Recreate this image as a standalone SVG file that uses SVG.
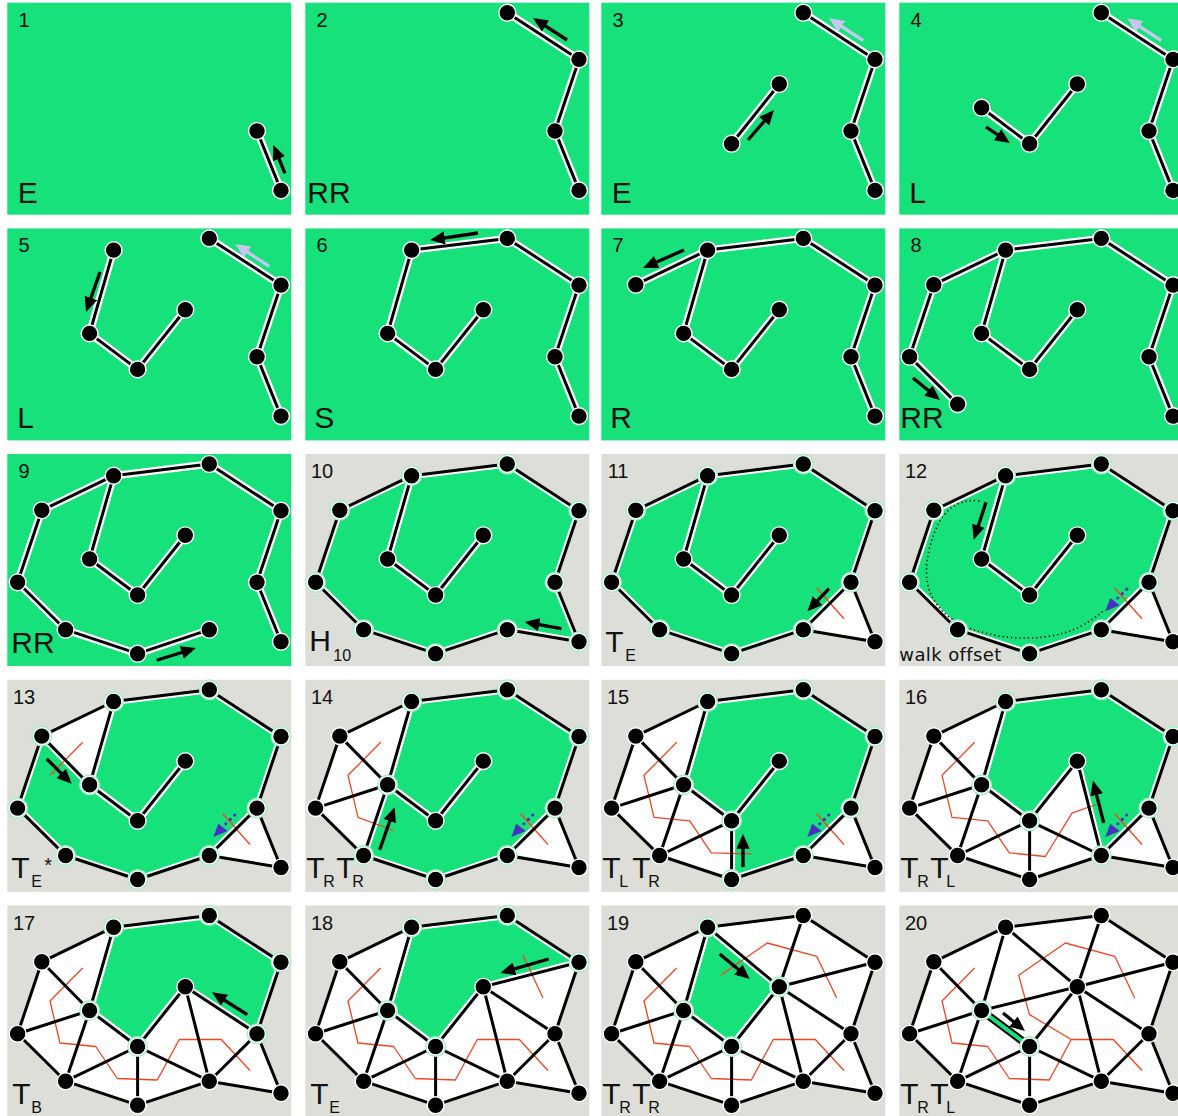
<svg xmlns="http://www.w3.org/2000/svg" xmlns:xlink="http://www.w3.org/1999/xlink" width="1178" height="1116" viewBox="0 0 1178 1116">
<style>
.bgg{fill:#16e17a}
.bgy{fill:#dcded7}
.hw{fill:#fff}
.gp{fill:#16e17a;stroke:#fff;stroke-width:7}
.cw{fill:none;stroke:#fff;stroke-width:7.5;stroke-linecap:round;stroke-linejoin:round}
.bk{fill:none;stroke:#000;stroke-width:3;stroke-linecap:round;stroke-linejoin:round}
.rd{fill:none;stroke:#f4441f;stroke-width:1.3;stroke-linejoin:round}
.n{fill:#000;stroke:#fff;stroke-width:1.4}
.rg{fill:none;stroke:#a4efc6;stroke-width:4.2}
.ar{stroke:#000;stroke-width:3.3;marker-end:url(#mk)}
.lv{stroke:#c9c6f2;stroke-width:3.3;marker-end:url(#ml)}
text{font-family:"Liberation Sans",Arial,sans-serif;fill:#111}
.num{font-size:20px;text-anchor:middle}
.lb{font-size:30px}
.sb{font-size:16px}
.wk{font-family:"DejaVu Sans",sans-serif;font-size:18px;letter-spacing:0.4px}
</style>
<defs>
<marker id="mk" viewBox="0 0 4.5 4" refX="3" refY="2" markerWidth="4.5" markerHeight="4" orient="auto" markerUnits="strokeWidth"><path d="M0,0L4.5,2L0,4z" fill="#000"/></marker>
<marker id="ml" viewBox="0 0 4.5 4" refX="3" refY="2" markerWidth="4.5" markerHeight="4" orient="auto" markerUnits="strokeWidth"><path d="M0,0L4.5,2L0,4z" fill="#c9c6f2"/></marker>
<circle id="A" cx="34.5" cy="56.3" r="8.4"/>
<circle id="B" cx="106.3" cy="21.7" r="8.4"/>
<circle id="C" cx="202" cy="10" r="8.4"/>
<circle id="D" cx="273.7" cy="56.7" r="8.4"/>
<circle id="E" cx="249.7" cy="128.3" r="8.4"/>
<circle id="F" cx="273.7" cy="187.7" r="8.4"/>
<circle id="G" cx="178" cy="81.3" r="8.4"/>
<circle id="H" cx="130.3" cy="141" r="8.4"/>
<circle id="I" cx="82.3" cy="105" r="8.4"/>
<circle id="J" cx="10.3" cy="128.3" r="8.4"/>
<circle id="K" cx="58.3" cy="175.7" r="8.4"/>
<circle id="L" cx="130.3" cy="199.7" r="8.4"/>
<circle id="M" cx="202" cy="175.7" r="8.4"/>
<g id="allN"><use href="#A" class="n"/><use href="#B" class="n"/><use href="#C" class="n"/><use href="#D" class="n"/><use href="#E" class="n"/><use href="#F" class="n"/><use href="#G" class="n"/><use href="#H" class="n"/><use href="#I" class="n"/><use href="#J" class="n"/><use href="#K" class="n"/><use href="#L" class="n"/><use href="#M" class="n"/></g>
<path id="s1" d="M273.7,187.7L249.7,128.3"/>
<path id="s2" d="M273.7,187.7L249.7,128.3L273.7,56.7L202,10"/>
<path id="s3" d="M273.7,187.7L249.7,128.3L273.7,56.7L202,10M130.3,141L178,81.3"/>
<path id="s4" d="M273.7,187.7L249.7,128.3L273.7,56.7L202,10M82.3,105L130.3,141L178,81.3"/>
<path id="s5" d="M273.7,187.7L249.7,128.3L273.7,56.7L202,10M106.3,21.7L82.3,105L130.3,141L178,81.3"/>
<path id="s6" d="M178,81.3L130.3,141L82.3,105L106.3,21.7L202,10L273.7,56.7L249.7,128.3L273.7,187.7"/>
<path id="s7" d="M34.5,56.3L106.3,21.7L202,10L273.7,56.7L249.7,128.3L273.7,187.7M106.3,21.7L82.3,105L130.3,141L178,81.3"/>
<path id="s8" d="M58.3,175.7L10.3,128.3L34.5,56.3L106.3,21.7L202,10L273.7,56.7L249.7,128.3L273.7,187.7M106.3,21.7L82.3,105L130.3,141L178,81.3"/>
<path id="s9" d="M202,175.7L130.3,199.7L58.3,175.7L10.3,128.3L34.5,56.3L106.3,21.7L202,10L273.7,56.7L249.7,128.3L273.7,187.7M106.3,21.7L82.3,105L130.3,141L178,81.3"/>
<path id="sp" d="M106.3,21.7L82.3,105L130.3,141L178,81.3"/>
<path id="hull" d="M10.3,128.3L34.5,56.3L106.3,21.7L202,10L273.7,56.7L249.7,128.3L273.7,187.7L202,175.7L130.3,199.7L58.3,175.7Z"/>
<path id="g11" d="M10.3,128.3L34.5,56.3L106.3,21.7L202,10L273.7,56.7L249.7,128.3L202,175.7L130.3,199.7L58.3,175.7Z"/>
<path id="g13" d="M10.3,128.3L34.5,56.3L82.3,105L106.3,21.7L202,10L273.7,56.7L249.7,128.3L202,175.7L130.3,199.7L58.3,175.7Z"/>
<path id="g14" d="M58.3,175.7L82.3,105L106.3,21.7L202,10L273.7,56.7L249.7,128.3L202,175.7L130.3,199.7Z"/>
<path id="g15" d="M130.3,141L82.3,105L106.3,21.7L202,10L273.7,56.7L249.7,128.3L202,175.7L130.3,199.7Z"/>
<path id="g16" d="M130.3,141L82.3,105L106.3,21.7L202,10L273.7,56.7L249.7,128.3L202,175.7L178,81.3Z"/>
<path id="g17" d="M130.3,141L82.3,105L106.3,21.7L202,10L273.7,56.7L249.7,128.3L178,81.3Z"/>
<path id="g18" d="M130.3,141L82.3,105L106.3,21.7L202,10L273.7,56.7L178,81.3Z"/>
<path id="g19" d="M130.3,141L82.3,105L106.3,21.7L178,81.3Z"/>
<clipPath id="c10"><use href="#hull"/></clipPath>
<clipPath id="c11"><use href="#g11"/></clipPath>
<clipPath id="c13"><use href="#g13"/></clipPath>
<clipPath id="c14"><use href="#g14"/></clipPath>
<clipPath id="c15"><use href="#g15"/></clipPath>
<clipPath id="c16"><use href="#g16"/></clipPath>
<clipPath id="c17"><use href="#g17"/></clipPath>
<clipPath id="c18"><use href="#g18"/></clipPath>
<clipPath id="c19"><use href="#g19"/></clipPath>
<path id="e11" d="M249.7,128.3L202,175.7"/>
<path id="e13" d="M249.7,128.3L202,175.7M34.5,56.3L82.3,105"/>
<path id="e14" d="M249.7,128.3L202,175.7M34.5,56.3L82.3,105M10.3,128.3L82.3,105M58.3,175.7L82.3,105"/>
<path id="e15" d="M249.7,128.3L202,175.7M34.5,56.3L82.3,105M10.3,128.3L82.3,105M58.3,175.7L82.3,105M58.3,175.7L130.3,141M130.3,199.7L130.3,141"/>
<path id="e16" d="M249.7,128.3L202,175.7M34.5,56.3L82.3,105M10.3,128.3L82.3,105M58.3,175.7L82.3,105M58.3,175.7L130.3,141M130.3,199.7L130.3,141M202,175.7L130.3,141M202,175.7L178,81.3"/>
<path id="e17" d="M249.7,128.3L202,175.7M34.5,56.3L82.3,105M10.3,128.3L82.3,105M58.3,175.7L82.3,105M58.3,175.7L130.3,141M130.3,199.7L130.3,141M202,175.7L130.3,141M202,175.7L178,81.3M249.7,128.3L178,81.3"/>
<path id="e18" d="M249.7,128.3L202,175.7M34.5,56.3L82.3,105M10.3,128.3L82.3,105M58.3,175.7L82.3,105M58.3,175.7L130.3,141M130.3,199.7L130.3,141M202,175.7L130.3,141M202,175.7L178,81.3M249.7,128.3L178,81.3M273.7,56.7L178,81.3"/>
<path id="e19" d="M249.7,128.3L202,175.7M34.5,56.3L82.3,105M10.3,128.3L82.3,105M58.3,175.7L82.3,105M58.3,175.7L130.3,141M130.3,199.7L130.3,141M202,175.7L130.3,141M202,175.7L178,81.3M249.7,128.3L178,81.3M273.7,56.7L178,81.3M202,10L178,81.3M106.3,21.7L178,81.3"/>
<path id="e20" d="M249.7,128.3L202,175.7M34.5,56.3L82.3,105M10.3,128.3L82.3,105M58.3,175.7L82.3,105M58.3,175.7L130.3,141M130.3,199.7L130.3,141M202,175.7L130.3,141M202,175.7L178,81.3M249.7,128.3L178,81.3M273.7,56.7L178,81.3M202,10L178,81.3M106.3,21.7L178,81.3M82.3,105L178,81.3"/>
<path id="rst" d="M215.4,134L242.7,164.7"/>
<path id="rmain" d="M75.4,62.5L42.7,95.5L52.7,137.5L88.4,141L110,173L150,174.5L172,134L214,134L242.7,165"/>
<g id="blue" fill="#4a2fc4"><polygon points="206,157.3 211,144 220.4,151.3"/><circle cx="218.5" cy="144" r="1.6"/><circle cx="223" cy="139.6" r="1.6"/><circle cx="227.4" cy="135.2" r="1.6"/></g>
</defs>

<g id="p1" transform="translate(7.3,2.7)">
<rect class="bgg" width="284" height="212"/>
<use href="#s1" class="cw"/><use href="#s1" class="bk"/>
<use href="#E" class="n"/><use href="#F" class="n"/>
<line class="ar" x1="277.7" y1="170.6" x2="267.9" y2="146.9"/>
<text class="num" x="16.8" y="24">1</text>
<text class="lb" x="10.5" y="200">E</text>
</g>

<g id="p2" transform="translate(305.3,2.7)">
<rect class="bgg" width="284" height="212"/>
<use href="#s2" class="cw"/><use href="#s2" class="bk"/>
<use href="#C" class="n"/><use href="#D" class="n"/><use href="#E" class="n"/><use href="#F" class="n"/>
<line class="ar" x1="261.7" y1="37.3" x2="231.9" y2="18"/>
<text class="num" x="16.8" y="24">2</text>
<text class="lb" x="2" y="200">RR</text>
</g>

<g id="p3" transform="translate(601.3,2.7)">
<rect class="bgg" width="284" height="212"/>
<use href="#s3" class="cw"/><use href="#s3" class="bk"/>
<use href="#C" class="n"/><use href="#D" class="n"/><use href="#E" class="n"/><use href="#F" class="n"/><use href="#G" class="n"/><use href="#H" class="n"/>
<line class="lv" x1="262" y1="38" x2="232" y2="18.3"/>
<line class="ar" x1="146.7" y1="137.3" x2="169.4" y2="111.1"/>
<text class="num" x="16.8" y="24">3</text>
<text class="lb" x="10.5" y="200">E</text>
</g>

<g id="p4" transform="translate(899.3,2.7)">
<rect class="bgg" width="284" height="212"/>
<use href="#s4" class="cw"/><use href="#s4" class="bk"/>
<use href="#C" class="n"/><use href="#D" class="n"/><use href="#E" class="n"/><use href="#F" class="n"/><use href="#G" class="n"/><use href="#H" class="n"/><use href="#I" class="n"/>
<line class="lv" x1="262" y1="38" x2="232" y2="18.3"/>
<line class="ar" x1="86.7" y1="124.3" x2="106.5" y2="137.5"/>
<text class="num" x="16.8" y="24">4</text>
<text class="lb" x="10" y="200">L</text>
</g>

<g id="p5" transform="translate(7.3,228.4)">
<rect class="bgg" width="284" height="212"/>
<use href="#s5" class="cw"/><use href="#s5" class="bk"/>
<use href="#B" class="n"/><use href="#C" class="n"/><use href="#D" class="n"/><use href="#E" class="n"/><use href="#F" class="n"/><use href="#G" class="n"/><use href="#H" class="n"/><use href="#I" class="n"/>
<line class="lv" x1="262" y1="38" x2="232" y2="18.3"/>
<line class="ar" x1="92.7" y1="43.6" x2="80.4" y2="78.9"/>
<text class="num" x="16.8" y="24">5</text>
<text class="lb" x="10" y="200">L</text>
</g>

<g id="p6" transform="translate(305.3,228.4)">
<rect class="bgg" width="284" height="212"/>
<use href="#s6" class="cw"/><use href="#s6" class="bk"/>
<use href="#B" class="n"/><use href="#C" class="n"/><use href="#D" class="n"/><use href="#E" class="n"/><use href="#F" class="n"/><use href="#G" class="n"/><use href="#H" class="n"/><use href="#I" class="n"/>
<line class="ar" x1="172.7" y1="4.6" x2="129.7" y2="10.9"/>
<text class="num" x="16.8" y="24">6</text>
<text class="lb" x="9" y="200">S</text>
</g>

<g id="p7" transform="translate(601.3,228.4)">
<rect class="bgg" width="284" height="212"/>
<use href="#s7" class="cw"/><use href="#s7" class="bk"/>
<use href="#A" class="n"/><use href="#B" class="n"/><use href="#C" class="n"/><use href="#D" class="n"/><use href="#E" class="n"/><use href="#F" class="n"/><use href="#G" class="n"/><use href="#H" class="n"/><use href="#I" class="n"/>
<line class="ar" x1="82.7" y1="21.6" x2="46.3" y2="37.6"/>
<text class="num" x="16.8" y="24">7</text>
<text class="lb" x="9" y="200">R</text>
</g>

<g id="p8" transform="translate(899.3,228.4)">
<rect class="bgg" width="284" height="212"/>
<use href="#s8" class="cw"/><use href="#s8" class="bk"/>
<use href="#A" class="n"/><use href="#B" class="n"/><use href="#C" class="n"/><use href="#D" class="n"/><use href="#E" class="n"/><use href="#F" class="n"/><use href="#G" class="n"/><use href="#H" class="n"/><use href="#I" class="n"/><use href="#J" class="n"/><use href="#K" class="n"/>
<line class="ar" x1="13.7" y1="149.6" x2="36.8" y2="168.4"/>
<text class="num" x="16.8" y="24">8</text>
<text class="lb" x="1" y="200">RR</text>
</g>

<g id="p9" transform="translate(7.3,454)">
<rect class="bgg" width="284" height="212"/>
<use href="#s9" class="cw"/><use href="#s9" class="bk"/>
<use href="#allN"/>
<line class="ar" x1="149.4" y1="206.3" x2="183.9" y2="195.5"/>
<text class="num" x="16.8" y="24">9</text>
<text class="lb" x="4" y="199">RR</text>
</g>

<g id="p10" transform="translate(305.3,454)">
<rect class="bgy" width="284" height="212"/>
<use href="#hull" class="gp" clip-path="url(#c10)"/>
<use href="#sp" class="cw"/>
<use href="#hull" class="bk"/><use href="#sp" class="bk"/>
<use href="#A" class="rg"/><use href="#B" class="rg"/><use href="#C" class="rg"/><use href="#D" class="rg"/><use href="#E" class="rg"/><use href="#F" class="rg"/><use href="#M" class="rg"/><use href="#L" class="rg"/><use href="#K" class="rg"/><use href="#J" class="rg"/>
<use href="#allN"/>
<line class="ar" x1="256" y1="174.7" x2="224.2" y2="168.9"/>
<text class="num" x="16.8" y="24">10</text>
<text class="lb" x="4" y="197">H</text><text x="28" y="206.5" style="font-size:16px">10</text>
</g>

<g id="p11" transform="translate(601.3,454)">
<rect class="bgy" width="284" height="212"/>
<use href="#hull" class="hw"/>
<use href="#g11" class="gp" clip-path="url(#c11)"/>
<use href="#sp" class="cw"/>
<use href="#rst" class="rd"/>
<use href="#hull" class="bk"/><use href="#e11" class="bk"/><use href="#sp" class="bk"/>
<use href="#A" class="rg"/><use href="#B" class="rg"/><use href="#C" class="rg"/><use href="#D" class="rg"/><use href="#E" class="rg"/><use href="#M" class="rg"/><use href="#L" class="rg"/><use href="#K" class="rg"/><use href="#J" class="rg"/>
<use href="#allN"/>
<line class="ar" x1="227.7" y1="134.7" x2="209.5" y2="153.7"/>
<text class="num" x="16.8" y="24">11</text>
<text class="lb" x="4" y="198">T</text><text class="sb" x="24" y="207">E</text>
</g>

<g id="p12" transform="translate(899.3,454)">
<rect class="bgy" width="284" height="212"/>
<use href="#hull" class="hw"/>
<use href="#g11" class="gp" clip-path="url(#c11)"/>
<use href="#sp" class="cw"/>
<use href="#rst" class="rd"/>
<path d="M80,47C60,44 45,56 38,72C28,94 24,118 30,136C38,160 62,176 100,182C130,187 160,183 180,173C192,167 199,161 204,157" fill="none" stroke="#000" stroke-width="1.7" stroke-dasharray="1.2 3"/>
<use href="#hull" class="bk"/><use href="#e11" class="bk"/><use href="#sp" class="bk"/>
<use href="#A" class="rg"/><use href="#B" class="rg"/><use href="#C" class="rg"/><use href="#D" class="rg"/><use href="#E" class="rg"/><use href="#M" class="rg"/><use href="#L" class="rg"/><use href="#K" class="rg"/><use href="#J" class="rg"/>
<use href="#allN"/>
<use href="#blue"/>
<line class="ar" x1="86.7" y1="48.3" x2="76" y2="81"/>
<text class="num" x="16.8" y="24">12</text>
<text class="wk" x="0" y="207">walk offset</text>
</g>

<g id="p13" transform="translate(7.3,679.8)">
<rect class="bgy" width="284" height="212"/>
<use href="#hull" class="hw"/>
<use href="#g13" class="gp" clip-path="url(#c13)"/>
<use href="#sp" class="cw"/>
<use href="#rst" class="rd"/>
<path class="rd" d="M42.7,95.5L75.4,62.5"/>
<use href="#hull" class="bk"/><use href="#e13" class="bk"/><use href="#sp" class="bk"/>
<use href="#A" class="rg"/><use href="#B" class="rg"/><use href="#C" class="rg"/><use href="#D" class="rg"/><use href="#E" class="rg"/><use href="#M" class="rg"/><use href="#L" class="rg"/><use href="#K" class="rg"/><use href="#J" class="rg"/><use href="#I" class="rg"/>
<use href="#allN"/>
<use href="#blue"/>
<line class="ar" x1="39.4" y1="79" x2="60.9" y2="100.5"/>
<text class="num" x="16.8" y="24">13</text>
<text class="lb" x="4" y="198">T</text><text class="sb" x="24" y="207">E</text><text x="37" y="192" style="font-size:20px">*</text>
</g>

<g id="p14" transform="translate(305.3,679.8)">
<rect class="bgy" width="284" height="212"/>
<use href="#hull" class="hw"/>
<use href="#g14" class="gp" clip-path="url(#c14)"/>
<use href="#sp" class="cw"/>
<use href="#rst" class="rd"/>
<path class="rd" d="M75.4,62.5L42.7,95.5L52.7,137.5L88.4,150.7"/>
<use href="#hull" class="bk"/><use href="#e14" class="bk"/><use href="#sp" class="bk"/>
<use href="#I" class="rg"/><use href="#K" class="rg"/><use href="#B" class="rg"/><use href="#C" class="rg"/><use href="#D" class="rg"/><use href="#E" class="rg"/><use href="#M" class="rg"/><use href="#L" class="rg"/>
<use href="#allN"/>
<use href="#blue"/>
<line class="ar" x1="74.4" y1="170" x2="87.7" y2="132"/>
<text class="num" x="16.8" y="24">14</text>
<text class="lb" x="1" y="198">T</text><text class="sb" x="18" y="207">R</text><text class="lb" x="31" y="198">T</text><text class="sb" x="47" y="207">R</text>
</g>

<g id="p15" transform="translate(601.3,679.8)">
<rect class="bgy" width="284" height="212"/>
<use href="#hull" class="hw"/>
<use href="#g15" class="gp" clip-path="url(#c15)"/>
<use href="#sp" class="cw"/>
<use href="#rst" class="rd"/>
<path class="rd" d="M75.4,62.5L42.7,95.5L52.7,137.5L88.4,141L110,173L150.4,174"/>
<use href="#hull" class="bk"/><use href="#e15" class="bk"/><use href="#sp" class="bk"/>
<use href="#I" class="rg"/><use href="#H" class="rg"/><use href="#L" class="rg"/><use href="#B" class="rg"/><use href="#C" class="rg"/><use href="#D" class="rg"/><use href="#E" class="rg"/><use href="#M" class="rg"/>
<use href="#allN"/>
<use href="#blue"/>
<line class="ar" x1="141.7" y1="187.3" x2="141.7" y2="159"/>
<text class="num" x="16.8" y="24">15</text>
<text class="lb" x="1" y="198">T</text><text class="sb" x="18" y="207">L</text><text class="lb" x="31" y="198">T</text><text class="sb" x="47" y="207">R</text>
</g>

<g id="p16" transform="translate(899.3,679.8)">
<rect class="bgy" width="284" height="212"/>
<use href="#hull" class="hw"/>
<use href="#g16" class="gp" clip-path="url(#c16)"/>
<use href="#sp" class="cw"/>
<use href="#rst" class="rd"/>
<path class="rd" d="M75.4,62.5L42.7,95.5L52.7,137.5L88.4,141L110,173L146,176.7L172.7,133.3L196.7,124.7"/>
<use href="#hull" class="bk"/><use href="#e16" class="bk"/><use href="#sp" class="bk"/>
<use href="#I" class="rg"/><use href="#H" class="rg"/><use href="#B" class="rg"/><use href="#C" class="rg"/><use href="#D" class="rg"/><use href="#E" class="rg"/><use href="#M" class="rg"/>
<use href="#allN"/>
<use href="#blue"/>
<line class="ar" x1="204.4" y1="143" x2="194.9" y2="105.5"/>
<text class="num" x="16.8" y="24">16</text>
<text class="lb" x="1" y="198">T</text><text class="sb" x="18" y="207">R</text><text class="lb" x="31" y="198">T</text><text class="sb" x="47" y="207">L</text>
</g>

<g id="p17" transform="translate(7.3,905.5)">
<rect class="bgy" width="284" height="212"/>
<use href="#hull" class="hw"/>
<use href="#g17" class="gp" clip-path="url(#c17)"/>
<use href="#sp" class="cw"/>
<use href="#rmain" class="rd"/>
<use href="#hull" class="bk"/><use href="#e17" class="bk"/><use href="#sp" class="bk"/>
<use href="#I" class="rg"/><use href="#H" class="rg"/><use href="#B" class="rg"/><use href="#C" class="rg"/><use href="#D" class="rg"/><use href="#E" class="rg"/>
<use href="#allN"/>
<line class="ar" x1="240" y1="109.2" x2="208.9" y2="89.5"/>
<text class="num" x="16.8" y="24">17</text>
<text class="lb" x="5" y="198">T</text><text class="sb" x="24" y="207">B</text>
</g>

<g id="p18" transform="translate(305.3,905.5)">
<rect class="bgy" width="284" height="212"/>
<use href="#hull" class="hw"/>
<use href="#g18" class="gp" clip-path="url(#c18)"/>
<use href="#sp" class="cw"/>
<use href="#rmain" class="rd"/>
<path class="rd" d="M217.7,49.8L237.7,92.5"/>
<use href="#hull" class="bk"/><use href="#e18" class="bk"/><use href="#sp" class="bk"/>
<use href="#I" class="rg"/><use href="#H" class="rg"/><use href="#B" class="rg"/><use href="#C" class="rg"/><use href="#D" class="rg"/>
<use href="#allN"/>
<line class="ar" x1="243.4" y1="53.5" x2="199.8" y2="66.1"/>
<text class="num" x="16.8" y="24">18</text>
<text class="lb" x="5" y="198">T</text><text class="sb" x="24" y="207">E</text>
</g>

<g id="p19" transform="translate(601.3,905.5)">
<rect class="bgy" width="284" height="212"/>
<use href="#hull" class="hw"/>
<use href="#g19" class="gp" clip-path="url(#c19)"/>
<use href="#sp" class="cw"/>
<use href="#rmain" class="rd"/>
<path class="rd" d="M119.4,69.8L166,37.5L215.4,50.8L235.4,92.5"/>
<use href="#hull" class="bk"/><use href="#e19" class="bk"/><use href="#sp" class="bk"/>
<use href="#I" class="rg"/><use href="#H" class="rg"/><use href="#B" class="rg"/><use href="#G" class="rg"/>
<use href="#allN"/>
<line class="ar" x1="118.4" y1="48.5" x2="144.6" y2="70.3"/>
<text class="num" x="16.8" y="24">19</text>
<text class="lb" x="1" y="198">T</text><text class="sb" x="18" y="207">R</text><text class="lb" x="31" y="198">T</text><text class="sb" x="47" y="207">R</text>
</g>

<g id="p20" transform="translate(899.3,905.5)">
<rect class="bgy" width="284" height="212"/>
<use href="#hull" class="hw"/>
<use href="#rmain" class="rd"/>
<path class="rd" d="M235.4,92.5L215.4,50.8L166,37.5L119.4,69.8L130.2,109.1L172,134"/>
<use href="#hull" class="bk"/><use href="#e20" class="bk"/><use href="#sp" class="bk"/>
<path d="M82.3,105L130.3,141" stroke="#000" stroke-width="8"/>
<path d="M82.3,105L130.3,141" stroke="#16e17a" stroke-width="4"/>
<use href="#I" class="rg"/><use href="#H" class="rg"/>
<use href="#allN"/>
<line class="ar" x1="103.7" y1="107.5" x2="121.8" y2="122.3"/>
<text class="num" x="16.8" y="24">20</text>
<text class="lb" x="1" y="198">T</text><text class="sb" x="18" y="207">R</text><text class="lb" x="31" y="198">T</text><text class="sb" x="47" y="207">L</text>
</g>
</svg>
